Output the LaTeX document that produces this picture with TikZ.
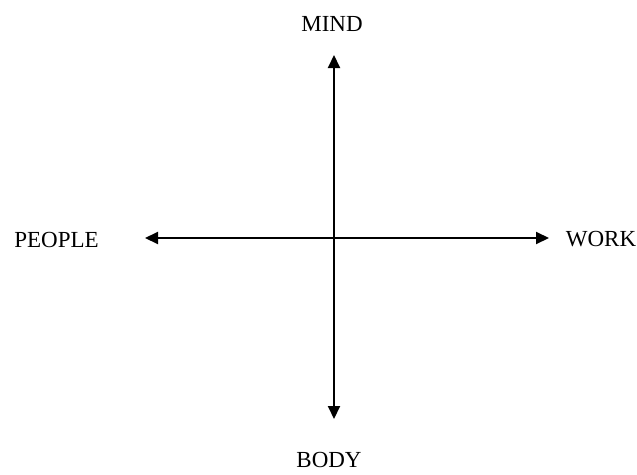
\documentclass[tikz,border=0pt]{standalone}
\usepackage{fontspec}
\setmainfont{Liberation Serif}
\usetikzlibrary{arrows.meta}
\begin{document}
\begin{tikzpicture}[x=1pt,y=-1pt,
  lbl/.style={font=\fontsize{23}{27}\selectfont, inner sep=0pt, anchor=base},
  axis/.style={line width=2pt, {Triangle[length=13pt,width=12pt]}-{Triangle[length=13pt,width=12pt]}}]
\useasboundingbox (0,0) rectangle (637,474);
\coordinate (t) at (334,55);
\coordinate (b) at (334,419);
\coordinate (l) at (145,238);
\coordinate (r) at (549,238);
\draw[axis] (b) -- (t);
\draw[axis] (l) -- (r);
\node[lbl] (mind) at (332,31) {MIND};
\node[lbl] (body) at (329,467) {BODY};
\node[lbl] (people) at (56.5,247) {PEOPLE};
\node[lbl] (work) at (601,246) {WORK};
\end{tikzpicture}
\end{document}
